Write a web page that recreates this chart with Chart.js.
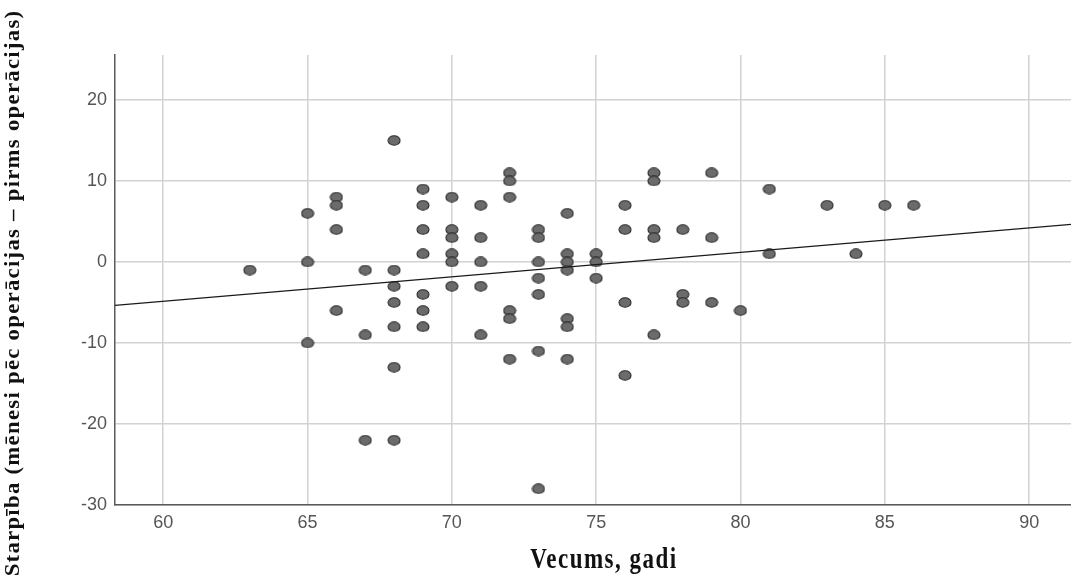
<!DOCTYPE html>
<html>
<head>
<meta charset="utf-8">
<script src="https://cdn.jsdelivr.net/npm/chart.js@4/dist/chart.umd.min.js"></script>
<style>
  html, body { margin: 0; padding: 0; background: #fff; }
</style>
</head>
<body>
<canvas id="chart" width="1071" height="584"></canvas>
<script>
// age (years) and change in score, one entry per patient
const age = [
  63,
  65, 65, 65,
  66, 66, 66, 66,
  67, 67, 67,
  68, 68, 68, 68, 68, 68, 68,
  69, 69, 69, 69, 69, 69, 69,
  70, 70, 70, 70, 70, 70,
  71, 71, 71, 71, 71,
  72, 72, 72, 72, 72, 72,
  73, 73, 73, 73, 73, 73, 73,
  74, 74, 74, 74, 74, 74, 74,
  75, 75, 75,
  76, 76, 76, 76,
  77, 77, 77, 77, 77,
  78, 78, 78,
  79, 79, 79,
  80,
  81, 81,
  83, 84, 85, 86
]
const diff = [
  -1,
  6, 0, -10,
  8, 7, 4, -6,
  -1, -9, -22,
  15, -1, -3, -5, -8, -13, -22,
  9, 7, 4, 1, -4, -6, -8,
  8, 4, 3, 1, 0, -3,
  7, 3, 0, -3, -9,
  11, 10, 8, -6, -7, -12,
  4, 3, 0, -2, -4, -11, -28,
  6, 1, 0, -1, -7, -8, -12,
  1, 0, -2,
  7, 4, -5, -14,
  11, 10, 4, 3, -9,
  4, -4, -5,
  11, 3, -5,
  -6,
  9, 1,
  7, 1, 7, 7
]

// fitted line, read at both ends of the x range
const fitX = [58.33, 91.45]
const fitY = [-5.35, 4.65]

const xTicks = [60, 65, 70, 75, 80, 85, 90]
const yTicks = [-30, -20, -10, 0, 10, 20]

const xTitle = "Vecums, gadi"
const yTitle = "Starpība (mēnesi pēc operācijas – pirms operācijas)"

// slightly wide elliptic marker like the original export
const marker = document.createElement("canvas")
marker.width = 14
marker.height = 11
{
  const m = marker.getContext("2d")
  m.beginPath()
  m.ellipse(7, 5.5, 6, 4.7, 0, 0, Math.PI * 2)
  m.fillStyle = "#6b6b6b"
  m.fill()
  m.lineWidth = 1.1
  m.strokeStyle = "#2b2b2b"
  m.stroke()
}

// axis titles, drawn by hand so they can run past the plot area
const axisTitles = {
  id: "axisTitles",
  afterDraw(chart) {
    const ctx = chart.ctx
    ctx.save()
    ctx.fillStyle = "#111"
    ctx.textAlign = "center"
    ctx.textBaseline = "alphabetic"

    ctx.save()
    ctx.font = "bold 23px 'Liberation Serif', 'Times New Roman', serif"
    ctx.letterSpacing = "1.5px"
    ctx.translate(604, 568)
    ctx.scale(1, 1.25)
    ctx.fillText(xTitle, 0, 0)
    ctx.restore()

    ctx.font = "bold 20px 'Liberation Serif', 'Times New Roman', serif"
    ctx.letterSpacing = "1.1px"
    ctx.translate(19, 293)
    ctx.rotate(-Math.PI / 2)
    ctx.scale(1.14, 1)
    ctx.fillText(yTitle, 0, 0)
    ctx.restore()
  }
}

const tickFont = { family: "'Liberation Sans', Arial, sans-serif", size: 18 }

new Chart(document.getElementById("chart"), {
  data: {
    datasets: [{
        type: "line",
        data: fitX.map((x, i) => ({ x: x, y: fitY[i] })),
        borderColor: "#1a1a1a",
        borderWidth: 1.3,
        pointRadius: 0,
        fill: false,
        order: 0
      },
      {
        type: "scatter",
        data: age.map((a, i) => ({ x: a, y: diff[i] })),
        pointStyle: marker,
        pointRadius: 6,
        order: 1
      }
    ]
  },
  options: {
    responsive: false,
    animation: false,
    layout: {
      autoPadding: false,
      padding: { top: 55, right: 0, bottom: 0, left: 0 }
    },
    plugins: {
      legend: { display: false },
      tooltip: { enabled: false }
    },
    scales: {
      x: {
        type: "linear",
        min: fitX[0],
        max: fitX[1],
        afterBuildTicks: s => { s.ticks = xTicks.map(v => ({ value: v })) },
        afterFit: s => {
          s.height = 79
          s.paddingLeft = 0
          s.paddingRight = 0
        },
        grid: { color: "#d2d2d2", lineWidth: 1.5, drawTicks: false },
        border: { color: "#5a5a5a", width: 1.5 },
        ticks: { font: tickFont, color: "#555", padding: 7, maxRotation: 0 }
      },
      y: {
        type: "linear",
        min: -30,
        max: 25.55,
        afterBuildTicks: s => { s.ticks = yTicks.map(v => ({ value: v })) },
        afterFit: s => { s.width = 115 },
        grid: { color: "#d2d2d2", lineWidth: 1.5, drawTicks: false },
        border: { color: "#5a5a5a", width: 1.5 },
        ticks: { font: tickFont, color: "#555", padding: 8 }
      }
    }
  },
  plugins: [axisTitles]
})
</script>
</body>
</html>
